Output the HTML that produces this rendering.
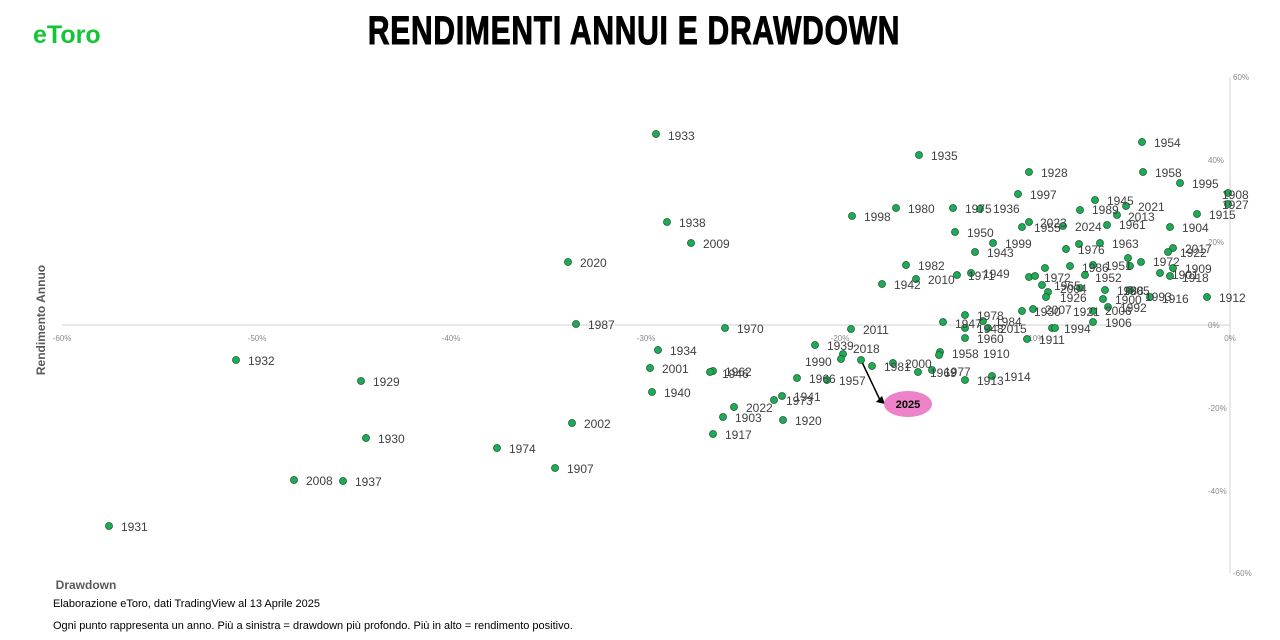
<!DOCTYPE html>
<html><head><meta charset="utf-8"><style>
body{margin:0;background:#fff;width:1280px;height:640px;overflow:hidden}
svg{display:block}
.l{font-family:"Liberation Sans",sans-serif;font-size:12px;fill:#404040}
.t{font-family:"Liberation Sans",sans-serif;font-size:8px;fill:#8a8a8a}
</style></head><body>
<svg width="1280" height="640" xmlns="http://www.w3.org/2000/svg">
<text x="634" y="44" text-anchor="middle" font-family="Liberation Sans,sans-serif" font-weight="bold" font-size="40" fill="#000" stroke="#000" stroke-width="1" transform="translate(634,0) scale(0.75,1) translate(-634,0)" letter-spacing="1">RENDIMENTI ANNUI E DRAWDOWN</text>
<text x="33" y="43" font-family="Liberation Sans,sans-serif" font-weight="bold" font-size="25" fill="#13c636">eToro</text>
<line x1="62" y1="325" x2="1230" y2="325" stroke="#d0d0d0" stroke-width="1"/>
<line x1="1230" y1="77" x2="1230" y2="573" stroke="#d0d0d0" stroke-width="1"/>
<g class="t">
<text x="62" y="341" text-anchor="middle">-60%</text><text x="257" y="341" text-anchor="middle">-50%</text><text x="451" y="341" text-anchor="middle">-40%</text><text x="646" y="341" text-anchor="middle">-30%</text><text x="840" y="341" text-anchor="middle">-20%</text><text x="1035" y="341" text-anchor="middle">-10%</text><text x="1230" y="341" text-anchor="middle">0%</text>
<text x="1233" y="80">60%</text><text x="1208" y="163">40%</text><text x="1208" y="245">20%</text><text x="1208" y="328">0%</text><text x="1208" y="411">-20%</text><text x="1208" y="494">-40%</text><text x="1233" y="576">-60%</text>
</g>
<text x="86" y="589" font-family="Liberation Sans,sans-serif" font-weight="bold" font-size="12" fill="#595959" text-anchor="middle">Drawdown</text>
<text transform="translate(45,320) rotate(-90)" font-family="Liberation Sans,sans-serif" font-weight="bold" font-size="12" fill="#595959" text-anchor="middle">Rendimento Annuo</text>
<text x="53" y="607" font-family="Liberation Sans,sans-serif" font-size="11" fill="#000">Elaborazione eToro, dati TradingView al 13 Aprile 2025</text>
<text x="53" y="629" font-family="Liberation Sans,sans-serif" font-size="11" fill="#000">Ogni punto rappresenta un anno. Più a sinistra = drawdown più profondo. Più in alto = rendimento positivo.</text>
<line x1="861" y1="360" x2="880" y2="400" stroke="#000" stroke-width="1.5"/>
<polygon points="876,402 885,404 882,396" fill="#000"/>
<ellipse cx="908" cy="404" rx="24" ry="13" fill="#ee82c8"/>
<text x="908" y="408" text-anchor="middle" font-family="Liberation Sans,sans-serif" font-weight="bold" font-size="11" fill="#000">2025</text>
<g fill="#1faa55" stroke="#1a5c32" stroke-width="0.8">
<circle cx="656" cy="134" r="3.5"/><circle cx="919" cy="155" r="3.5"/><circle cx="1142" cy="142" r="3.5"/><circle cx="1143" cy="172" r="3.5"/><circle cx="1029" cy="172" r="3.5"/><circle cx="1180" cy="183" r="3.5"/><circle cx="1018" cy="194" r="3.5"/><circle cx="1228" cy="193" r="3.5"/><circle cx="1228" cy="204" r="3.5"/><circle cx="896" cy="208" r="3.5"/><circle cx="953" cy="208" r="3.5"/><circle cx="980" cy="209" r="3.5"/><circle cx="852" cy="216" r="3.5"/><circle cx="667" cy="222" r="3.5"/><circle cx="1095" cy="200" r="3.5"/><circle cx="1126" cy="206" r="3.5"/><circle cx="1080" cy="210" r="3.5"/><circle cx="1117" cy="215" r="3.5"/><circle cx="1197" cy="214" r="3.5"/><circle cx="1029" cy="222" r="3.5"/><circle cx="1022" cy="227" r="3.5"/><circle cx="1063" cy="226" r="3.5"/><circle cx="1107" cy="225" r="3.5"/><circle cx="1170" cy="227" r="3.5"/><circle cx="955" cy="232" r="3.5"/><circle cx="691" cy="243" r="3.5"/><circle cx="993" cy="243" r="3.5"/><circle cx="975" cy="252" r="3.5"/><circle cx="1066" cy="249" r="3.5"/><circle cx="1100" cy="243" r="3.5"/><circle cx="1079" cy="244" r="3.5"/><circle cx="1173" cy="248" r="3.5"/><circle cx="1168" cy="252" r="3.5"/><circle cx="568" cy="262" r="3.5"/><circle cx="906" cy="265" r="3.5"/><circle cx="1141" cy="262" r="3.5"/><circle cx="1128" cy="258" r="3.5"/><circle cx="1070" cy="266" r="3.5"/><circle cx="1093" cy="265" r="3.5"/><circle cx="1130" cy="266" r="3.5"/><circle cx="1173" cy="268" r="3.5"/><circle cx="971" cy="273" r="3.5"/><circle cx="957" cy="275" r="3.5"/><circle cx="916" cy="279" r="3.5"/><circle cx="1160" cy="273" r="3.5"/><circle cx="1170" cy="276" r="3.5"/><circle cx="1029" cy="277" r="3.5"/><circle cx="1035" cy="276" r="3.5"/><circle cx="1045" cy="268" r="3.5"/><circle cx="1085" cy="275" r="3.5"/><circle cx="882" cy="284" r="3.5"/><circle cx="1042" cy="285" r="3.5"/><circle cx="1080" cy="288" r="3.5"/><circle cx="1048" cy="292" r="3.5"/><circle cx="1046" cy="297" r="3.5"/><circle cx="1105" cy="290" r="3.5"/><circle cx="1130" cy="290" r="3.5"/><circle cx="1150" cy="297" r="3.5"/><circle cx="1207" cy="297" r="3.5"/><circle cx="1103" cy="299" r="3.5"/><circle cx="1108" cy="307" r="3.5"/><circle cx="1022" cy="311" r="3.5"/><circle cx="1033" cy="309" r="3.5"/><circle cx="1093" cy="311" r="3.5"/><circle cx="576" cy="324" r="3.5"/><circle cx="965" cy="315" r="3.5"/><circle cx="943" cy="322" r="3.5"/><circle cx="983" cy="321" r="3.5"/><circle cx="1093" cy="322" r="3.5"/><circle cx="725" cy="328" r="3.5"/><circle cx="851" cy="329" r="3.5"/><circle cx="965" cy="328" r="3.5"/><circle cx="988" cy="328" r="3.5"/><circle cx="1052" cy="328" r="3.5"/><circle cx="1055" cy="328" r="3.5"/><circle cx="965" cy="338" r="3.5"/><circle cx="1027" cy="339" r="3.5"/><circle cx="658" cy="350" r="3.5"/><circle cx="815" cy="345" r="3.5"/><circle cx="861" cy="360" r="3.5"/><circle cx="843" cy="354" r="3.5"/><circle cx="841" cy="359" r="3.5"/><circle cx="940" cy="352" r="3.5"/><circle cx="939" cy="355" r="3.5"/><circle cx="236" cy="360" r="3.5"/><circle cx="872" cy="366" r="3.5"/><circle cx="893" cy="363" r="3.5"/><circle cx="918" cy="372" r="3.5"/><circle cx="932" cy="370" r="3.5"/><circle cx="650" cy="368" r="3.5"/><circle cx="713" cy="371" r="3.5"/><circle cx="710" cy="372" r="3.5"/><circle cx="965" cy="380" r="3.5"/><circle cx="992" cy="376" r="3.5"/><circle cx="361" cy="381" r="3.5"/><circle cx="797" cy="378" r="3.5"/><circle cx="827" cy="380" r="3.5"/><circle cx="652" cy="392" r="3.5"/><circle cx="782" cy="396" r="3.5"/><circle cx="774" cy="400" r="3.5"/><circle cx="734" cy="407" r="3.5"/><circle cx="723" cy="417" r="3.5"/><circle cx="783" cy="420" r="3.5"/><circle cx="572" cy="423" r="3.5"/><circle cx="366" cy="438" r="3.5"/><circle cx="713" cy="434" r="3.5"/><circle cx="497" cy="448" r="3.5"/><circle cx="555" cy="468" r="3.5"/><circle cx="294" cy="480" r="3.5"/><circle cx="343" cy="481" r="3.5"/><circle cx="109" cy="526" r="3.5"/>
</g>
<g class="l">
<text x="668" y="140">1933</text><text x="931" y="160">1935</text><text x="1154" y="147">1954</text><text x="1155" y="177">1958</text><text x="1041" y="177">1928</text><text x="1192" y="188">1995</text><text x="1030" y="199">1997</text><text x="1222" y="199">1908</text><text x="1222" y="209">1927</text><text x="908" y="213">1980</text><text x="965" y="213">1975</text><text x="993" y="213">1936</text><text x="864" y="221">1998</text><text x="679" y="227">1938</text><text x="1107" y="205">1945</text><text x="1138" y="211">2021</text><text x="1092" y="214">1989</text><text x="1128" y="221">2013</text><text x="1209" y="219">1915</text><text x="1040" y="227">2023</text><text x="1034" y="232">1955</text><text x="1075" y="231">2024</text><text x="1119" y="229">1961</text><text x="1182" y="232">1904</text><text x="967" y="237">1950</text><text x="703" y="248">2009</text><text x="1005" y="248">1999</text><text x="987" y="257">1943</text><text x="1078" y="254">1976</text><text x="1112" y="248">1963</text><text x="1185" y="253">2017</text><text x="1180" y="257">1922</text><text x="580" y="267">2020</text><text x="918" y="270">1982</text><text x="1153" y="266">1972</text><text x="1082" y="272">1986</text><text x="1105" y="270">1951</text><text x="1185" y="273">1909</text><text x="983" y="278">1949</text><text x="968" y="280">1971</text><text x="928" y="284">2010</text><text x="1172" y="279">1901</text><text x="1182" y="282">1918</text><text x="1044" y="282">1972</text><text x="1095" y="282">1952</text><text x="894" y="289">1942</text><text x="1054" y="290">1965</text><text x="1060" y="293">2004</text><text x="1117" y="295">1988</text><text x="1123" y="295">1905</text><text x="1145" y="301">1993</text><text x="1162" y="303">1916</text><text x="1219" y="302">1912</text><text x="1115" y="304">1900</text><text x="1120" y="312">1992</text><text x="1060" y="302">1926</text><text x="1034" y="316">1930</text><text x="1045" y="314">2007</text><text x="1073" y="316">1921</text><text x="1105" y="315">2006</text><text x="588" y="329">1987</text><text x="977" y="320">1978</text><text x="955" y="328">1947</text><text x="995" y="326">1984</text><text x="1105" y="327">1906</text><text x="737" y="333">1970</text><text x="863" y="334">2011</text><text x="977" y="333">1948</text><text x="1000" y="333">2015</text><text x="1064" y="333">1994</text><text x="977" y="343">1960</text><text x="1039" y="344">1911</text><text x="670" y="355">1934</text><text x="827" y="350">1939</text><text x="853" y="353">2018</text><text x="805" y="366">1990</text><text x="952" y="358">1958</text><text x="983" y="358">1910</text><text x="248" y="365">1932</text><text x="884" y="371">1981</text><text x="905" y="368">2000</text><text x="930" y="377">1969</text><text x="944" y="376">1977</text><text x="662" y="373">2001</text><text x="725" y="376">1962</text><text x="722" y="378">1946</text><text x="977" y="385">1913</text><text x="1004" y="381">1914</text><text x="373" y="386">1929</text><text x="809" y="383">1966</text><text x="839" y="385">1957</text><text x="664" y="397">1940</text><text x="794" y="401">1941</text><text x="786" y="405">1973</text><text x="746" y="412">2022</text><text x="735" y="422">1903</text><text x="795" y="425">1920</text><text x="584" y="428">2002</text><text x="378" y="443">1930</text><text x="725" y="439">1917</text><text x="509" y="453">1974</text><text x="567" y="473">1907</text><text x="306" y="485">2008</text><text x="355" y="486">1937</text><text x="121" y="531">1931</text>
</g>
</svg>
</body></html>
